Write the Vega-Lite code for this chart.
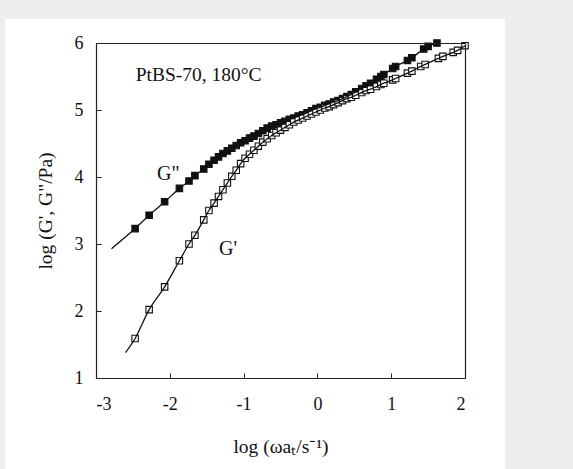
{
  "$schema": "https://vega.github.io/schema/vega-lite/v6.json",
  "autosize": "none",
  "width": 369,
  "height": 335,
  "padding": {"left": 96, "top": 43, "right": 108, "bottom": 91},
  "background": "#ecedec",
  "config": {
    "view": {"stroke": null},
    "font": "Liberation Serif"
  },
  "datasets": {
    "moduli": [
    {"series": "G''", "x": -2.79, "y": 2.93, "measured": false},
    {"series": "G''", "x": -2.47, "y": 3.23, "measured": true},
    {"series": "G''", "x": -2.28, "y": 3.43, "measured": true},
    {"series": "G''", "x": -2.07, "y": 3.63, "measured": true},
    {"series": "G''", "x": -1.87, "y": 3.83, "measured": true},
    {"series": "G''", "x": -1.74, "y": 3.94, "measured": true},
    {"series": "G''", "x": -1.66, "y": 4.02, "measured": true},
    {"series": "G''", "x": -1.54, "y": 4.12, "measured": true},
    {"series": "G''", "x": -1.47, "y": 4.19, "measured": true},
    {"series": "G''", "x": -1.40, "y": 4.25, "measured": true},
    {"series": "G''", "x": -1.34, "y": 4.30, "measured": true},
    {"series": "G''", "x": -1.28, "y": 4.35, "measured": true},
    {"series": "G''", "x": -1.22, "y": 4.39, "measured": true},
    {"series": "G''", "x": -1.16, "y": 4.43, "measured": true},
    {"series": "G''", "x": -1.10, "y": 4.47, "measured": true},
    {"series": "G''", "x": -1.04, "y": 4.51, "measured": true},
    {"series": "G''", "x": -0.98, "y": 4.54, "measured": true},
    {"series": "G''", "x": -0.92, "y": 4.58, "measured": true},
    {"series": "G''", "x": -0.86, "y": 4.61, "measured": true},
    {"series": "G''", "x": -0.80, "y": 4.65, "measured": true},
    {"series": "G''", "x": -0.74, "y": 4.69, "measured": true},
    {"series": "G''", "x": -0.68, "y": 4.73, "measured": true},
    {"series": "G''", "x": -0.62, "y": 4.76, "measured": true},
    {"series": "G''", "x": -0.56, "y": 4.78, "measured": true},
    {"series": "G''", "x": -0.50, "y": 4.81, "measured": true},
    {"series": "G''", "x": -0.44, "y": 4.83, "measured": true},
    {"series": "G''", "x": -0.38, "y": 4.86, "measured": true},
    {"series": "G''", "x": -0.32, "y": 4.88, "measured": true},
    {"series": "G''", "x": -0.26, "y": 4.91, "measured": true},
    {"series": "G''", "x": -0.20, "y": 4.93, "measured": true},
    {"series": "G''", "x": -0.14, "y": 4.96, "measured": true},
    {"series": "G''", "x": -0.08, "y": 4.99, "measured": true},
    {"series": "G''", "x": -0.02, "y": 5.02, "measured": true},
    {"series": "G''", "x": 0.04, "y": 5.04, "measured": true},
    {"series": "G''", "x": 0.10, "y": 5.07, "measured": true},
    {"series": "G''", "x": 0.16, "y": 5.09, "measured": true},
    {"series": "G''", "x": 0.22, "y": 5.12, "measured": true},
    {"series": "G''", "x": 0.28, "y": 5.14, "measured": true},
    {"series": "G''", "x": 0.34, "y": 5.17, "measured": true},
    {"series": "G''", "x": 0.40, "y": 5.20, "measured": true},
    {"series": "G''", "x": 0.46, "y": 5.23, "measured": true},
    {"series": "G''", "x": 0.52, "y": 5.27, "measured": true},
    {"series": "G''", "x": 0.60, "y": 5.32, "measured": true},
    {"series": "G''", "x": 0.66, "y": 5.36, "measured": true},
    {"series": "G''", "x": 0.72, "y": 5.40, "measured": true},
    {"series": "G''", "x": 0.80, "y": 5.46, "measured": true},
    {"series": "G''", "x": 0.86, "y": 5.50, "measured": true},
    {"series": "G''", "x": 0.90, "y": 5.53, "measured": true},
    {"series": "G''", "x": 1.02, "y": 5.62, "measured": true},
    {"series": "G''", "x": 1.06, "y": 5.65, "measured": true},
    {"series": "G''", "x": 1.22, "y": 5.74, "measured": true},
    {"series": "G''", "x": 1.28, "y": 5.78, "measured": true},
    {"series": "G''", "x": 1.44, "y": 5.91, "measured": true},
    {"series": "G''", "x": 1.50, "y": 5.95, "measured": true},
    {"series": "G''", "x": 1.62, "y": 6.00, "measured": true},
    {"series": "G'", "x": -2.60, "y": 1.38, "measured": false},
    {"series": "G'", "x": -2.47, "y": 1.59, "measured": true},
    {"series": "G'", "x": -2.28, "y": 2.02, "measured": true},
    {"series": "G'", "x": -2.07, "y": 2.36, "measured": true},
    {"series": "G'", "x": -1.87, "y": 2.75, "measured": true},
    {"series": "G'", "x": -1.74, "y": 3.00, "measured": true},
    {"series": "G'", "x": -1.66, "y": 3.13, "measured": true},
    {"series": "G'", "x": -1.54, "y": 3.36, "measured": true},
    {"series": "G'", "x": -1.47, "y": 3.50, "measured": true},
    {"series": "G'", "x": -1.40, "y": 3.61, "measured": true},
    {"series": "G'", "x": -1.34, "y": 3.71, "measured": true},
    {"series": "G'", "x": -1.28, "y": 3.81, "measured": true},
    {"series": "G'", "x": -1.22, "y": 3.91, "measured": true},
    {"series": "G'", "x": -1.16, "y": 4.01, "measured": true},
    {"series": "G'", "x": -1.10, "y": 4.10, "measured": true},
    {"series": "G'", "x": -1.04, "y": 4.20, "measured": true},
    {"series": "G'", "x": -0.98, "y": 4.28, "measured": true},
    {"series": "G'", "x": -0.92, "y": 4.34, "measured": true},
    {"series": "G'", "x": -0.86, "y": 4.40, "measured": true},
    {"series": "G'", "x": -0.80, "y": 4.46, "measured": true},
    {"series": "G'", "x": -0.74, "y": 4.52, "measured": true},
    {"series": "G'", "x": -0.68, "y": 4.57, "measured": true},
    {"series": "G'", "x": -0.62, "y": 4.62, "measured": true},
    {"series": "G'", "x": -0.56, "y": 4.66, "measured": true},
    {"series": "G'", "x": -0.50, "y": 4.70, "measured": true},
    {"series": "G'", "x": -0.44, "y": 4.74, "measured": true},
    {"series": "G'", "x": -0.38, "y": 4.78, "measured": true},
    {"series": "G'", "x": -0.32, "y": 4.82, "measured": true},
    {"series": "G'", "x": -0.26, "y": 4.85, "measured": true},
    {"series": "G'", "x": -0.20, "y": 4.88, "measured": true},
    {"series": "G'", "x": -0.14, "y": 4.91, "measured": true},
    {"series": "G'", "x": -0.08, "y": 4.94, "measured": true},
    {"series": "G'", "x": -0.02, "y": 4.97, "measured": true},
    {"series": "G'", "x": 0.04, "y": 5.00, "measured": true},
    {"series": "G'", "x": 0.10, "y": 5.03, "measured": true},
    {"series": "G'", "x": 0.16, "y": 5.05, "measured": true},
    {"series": "G'", "x": 0.22, "y": 5.08, "measured": true},
    {"series": "G'", "x": 0.28, "y": 5.11, "measured": true},
    {"series": "G'", "x": 0.34, "y": 5.14, "measured": true},
    {"series": "G'", "x": 0.40, "y": 5.17, "measured": true},
    {"series": "G'", "x": 0.46, "y": 5.19, "measured": true},
    {"series": "G'", "x": 0.52, "y": 5.22, "measured": true},
    {"series": "G'", "x": 0.60, "y": 5.26, "measured": true},
    {"series": "G'", "x": 0.66, "y": 5.29, "measured": true},
    {"series": "G'", "x": 0.72, "y": 5.31, "measured": true},
    {"series": "G'", "x": 0.80, "y": 5.35, "measured": true},
    {"series": "G'", "x": 0.86, "y": 5.38, "measured": true},
    {"series": "G'", "x": 0.90, "y": 5.40, "measured": true},
    {"series": "G'", "x": 1.02, "y": 5.45, "measured": true},
    {"series": "G'", "x": 1.06, "y": 5.47, "measured": true},
    {"series": "G'", "x": 1.22, "y": 5.55, "measured": true},
    {"series": "G'", "x": 1.28, "y": 5.58, "measured": true},
    {"series": "G'", "x": 1.40, "y": 5.65, "measured": true},
    {"series": "G'", "x": 1.46, "y": 5.68, "measured": true},
    {"series": "G'", "x": 1.64, "y": 5.77, "measured": true},
    {"series": "G'", "x": 1.70, "y": 5.80, "measured": true},
    {"series": "G'", "x": 1.84, "y": 5.86, "measured": true},
    {"series": "G'", "x": 1.90, "y": 5.89, "measured": true},
    {"series": "G'", "x": 2.00, "y": 5.96, "measured": true}
    ],
    "panel": [{"x": -4.23, "x2": 2.54, "y": -0.45, "y2": 6.36}],
    "notes": [
      {"x": -1.61, "y": 5.52, "label": "PtBS-70, 180°C", "size": 19.5},
      {"x": -2.02, "y": 4.04, "label": "G\"", "size": 20},
      {"x": -1.21, "y": 2.92, "label": "G'", "size": 20}
    ]
  },
  "resolve": {"axis": {"x": "independent", "y": "independent"}},
  "layer": [
    {
      "data": {"name": "panel"},
      "mark": {"type": "rect", "fill": "white", "clip": false},
      "encoding": {
        "x": {"field": "x", "type": "quantitative", "scale": {"domain": [-3, 2], "nice": false, "zero": false},
          "axis": {"values": [-3, -2, -1, 0, 1, 2], "title": "log (ωaₜ/s⁻¹)", "labelExpr": "'' + datum.value", "zindex": 2, "grid": false,
            "domainColor": "#222", "domainWidth": 1.2, "tickColor": "#222", "tickSize": -5, "tickWidth": 1,
            "labelPadding": 22, "labelFont": "Liberation Serif", "labelFontSize": 18, "labelColor": "#111",
            "titlePadding": 24, "titleFont": "Liberation Serif", "titleFontSize": 19.5, "titleFontWeight": "normal", "titleColor": "#111"}},
        "x2": {"field": "x2"},
        "y": {"field": "y", "type": "quantitative", "scale": {"domain": [1, 6], "nice": false, "zero": false},
          "axis": {"values": [1, 2, 3, 4, 5, 6], "title": "log (G', G\"/Pa)", "labelExpr": "'' + datum.value", "zindex": 2, "grid": false,
            "domainColor": "#222", "domainWidth": 1.2, "tickColor": "#222", "tickSize": -5, "tickWidth": 1,
            "labelPadding": 18, "labelFont": "Liberation Serif", "labelFontSize": 18, "labelColor": "#111",
            "titlePadding": 19, "titleFont": "Liberation Serif", "titleFontSize": 19.5, "titleFontWeight": "normal", "titleColor": "#111"}},
        "y2": {"field": "y2"}
      }
    },
    {
      "data": {"name": "moduli"},
      "transform": [{"filter": "datum.measured"}],
      "mark": {"type": "point", "shape": "square", "filled": false, "size": 42, "strokeWidth": 1.1, "opacity": 1},
      "encoding": {
        "x": {"field": "x", "type": "quantitative",
          "axis": {"orient": "top", "title": null, "labels": false, "ticks": false, "grid": false, "domainColor": "#222", "domainWidth": 1.2, "zindex": 2}},
        "y": {"field": "y", "type": "quantitative",
          "axis": {"orient": "right", "title": null, "labels": false, "ticks": false, "grid": false, "domainColor": "#222", "domainWidth": 1.2, "zindex": 2}},
        "fill": {"field": "series", "type": "nominal", "scale": {"domain": ["G''", "G'"], "range": ["#111111", "#ffffff"]}, "legend": null},
        "stroke": {"value": "#111111"}
      }
    },
    {
      "data": {"name": "moduli"},
      "mark": {"type": "line", "interpolate": "monotone", "color": "#111111", "strokeWidth": 1.3},
      "encoding": {
        "x": {"field": "x", "type": "quantitative", "axis": null},
        "y": {"field": "y", "type": "quantitative", "axis": null},
        "detail": {"field": "series", "type": "nominal"},
        "order": {"field": "x", "type": "quantitative"}
      }
    },
    {
      "data": {"name": "notes"},
      "mark": {"type": "text", "font": "Liberation Serif", "color": "#111"},
      "encoding": {
        "x": {"field": "x", "type": "quantitative", "axis": null},
        "y": {"field": "y", "type": "quantitative", "axis": null},
        "text": {"field": "label"},
        "size": {"field": "size", "type": "quantitative", "scale": null}
      }
    }
  ]
}
